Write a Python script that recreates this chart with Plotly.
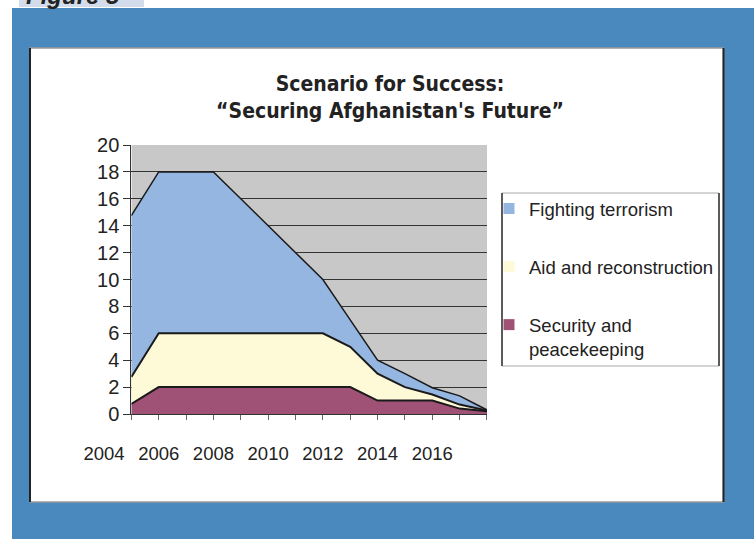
import plotly.graph_objects as go

# ---------------- data ----------------
years = list(range(2005, 2019))
security = [0.75, 2, 2, 2, 2, 2, 2, 2, 2, 1, 1, 1, 0.4, 0.2]
aid = [2, 4, 4, 4, 4, 4, 4, 4, 3, 2, 1, 0.45, 0.3, 0.05]
fighting = [12, 12, 12, 12, 10, 8, 6, 4, 2, 1, 1, 0.5, 0.65, 0.05]
label_years = [2004, 2006, 2008, 2010, 2012, 2014, 2016]
y_ticks = list(range(0, 21, 2))
series_names = ["Fighting terrorism", "Aid and reconstruction", "Security and<br>peacekeeping"]
series_colors = ["#95B6E1", "#FEF9D6", "#A05276"]
title_text = "Scenario for Success:<br>\u201cSecuring Afghanistan's Future\u201d"

# ---------------- geometry ----------------
W, H = 754, 539
ML, MR, MT, MB = 104, 267, 145, 125
PW, PH = W - ML - MR, H - MT - MB


def px_x(p):
    return (p - ML) / PW


def px_y(p):
    return (H - MB - p) / PH


BASE_FONT = "Liberation Sans, Arial, sans-serif"
TITLE_FONT = "Liberation Sans Narrow, Arial Narrow, Noto Sans Condensed, DejaVu Sans Condensed, sans-serif"
TEXT = "#222222"

fig = go.Figure()

# stacked areas (bottom to top)
stack = [("Security and peacekeeping", security, series_colors[2], 2),
         ("Aid and reconstruction", aid, series_colors[1], 2),
         ("Fighting terrorism", fighting, series_colors[0], 1.5)]
for name, vals, col, lw in stack:
    fig.add_trace(go.Scatter(
        x=years, y=vals, name=name, mode="lines",
        stackgroup="one", fillcolor=col,
        line=dict(color="#1a1a1a", width=lw),
        showlegend=False, hoverinfo="x+y+name"))

# legend entries (square swatches)
for i, (nm, col) in enumerate(zip(series_names, series_colors)):
    fig.add_trace(go.Scatter(
        x=[None], y=[None], mode="markers", name=nm,
        marker=dict(symbol="square", size=11, color=col, line=dict(width=0)),
        legendgroup=f"g{i}", showlegend=True))

# invisible trace carrying the year-label axis
fig.add_trace(go.Scatter(x=[None], y=[None], xaxis="x2", yaxis="y2",
                         showlegend=False, hoverinfo="skip"))

shapes = [
    # blue page background
    dict(type="rect", xref="paper", yref="paper", x0=px_x(12), x1=px_x(770),
         y0=px_y(8), y1=px_y(560), fillcolor="#4A89BE", line=dict(width=0), layer="below"),
    # "Figure" tab
    dict(type="rect", xref="paper", yref="paper", x0=px_x(19), x1=px_x(144),
         y0=px_y(-10), y1=px_y(7), fillcolor="#D3DCEB", line=dict(width=0), layer="below"),
    # white panel
    dict(type="rect", xref="paper", yref="paper", x0=px_x(30), x1=px_x(723.5),
         y0=px_y(48), y1=px_y(502), fillcolor="white", line=dict(color="#999999", width=1.5),
         layer="below"),
    dict(type="line", xref="paper", yref="paper", x0=px_x(30), x1=px_x(30),
         y0=px_y(48), y1=px_y(502), line=dict(color="#222222", width=2), layer="below"),
    dict(type="line", xref="paper", yref="paper", x0=px_x(723.5), x1=px_x(723.5),
         y0=px_y(48), y1=px_y(502), line=dict(color="#222222", width=2), layer="below"),
    # grey plot background
    dict(type="rect", xref="x", yref="y", x0=years[0], x1=years[-1],
         y0=y_ticks[0], y1=y_ticks[-1], fillcolor="#C8C8C8", line=dict(width=0), layer="below"),
    # legend frame
    dict(type="rect", xref="paper", yref="paper", x0=px_x(502), x1=px_x(719),
         y0=px_y(193), y1=px_y(366), fillcolor="rgba(0,0,0,0)",
         line=dict(color="#AAAAAA", width=1), layer="below"),
    dict(type="line", xref="paper", yref="paper", x0=px_x(502), x1=px_x(502),
         y0=px_y(193), y1=px_y(366), line=dict(color="#333333", width=1.5), layer="below"),
    dict(type="line", xref="paper", yref="paper", x0=px_x(719), x1=px_x(719),
         y0=px_y(193), y1=px_y(366), line=dict(color="#333333", width=1.5), layer="below"),
]

annotations = [
    dict(text="<i>Figure 5</i>", xref="paper", yref="paper", x=px_x(24), y=px_y(11),
         xanchor="left", yanchor="bottom", showarrow=False,
         font=dict(family=BASE_FONT, size=24, color=TEXT, weight="bold")),
]

x_main_start = (years[0] - label_years[0]) / (years[-1] - label_years[0])

fig.update_layout(
    width=W, height=H,
    margin=dict(l=ML, r=MR, t=MT, b=MB, pad=0),
    paper_bgcolor="white", plot_bgcolor="rgba(0,0,0,0)",
    font=dict(family=BASE_FONT, color=TEXT),
    title=dict(text=title_text, x=px_x(390), xref="paper", xanchor="center",
               y=1 - 91 / H, yref="container", yanchor="top",
               font=dict(family=TITLE_FONT, size=21, color=TEXT, weight="bold")),
    xaxis=dict(domain=[x_main_start, 1], range=[years[0], years[-1]],
               tickmode="array", tickvals=years, showticklabels=False,
               ticks="outside", ticklen=5, tickcolor="#666666", tickwidth=1,
               showgrid=False, zeroline=False, showline=True,
               linecolor="#333333", linewidth=1, anchor="y", fixedrange=True),
    yaxis=dict(range=[y_ticks[0], y_ticks[-1]], tickmode="array", tickvals=y_ticks,
               ticks="outside", ticklen=7, tickcolor="#333333", tickwidth=1,
               showgrid=True, gridcolor="#333333", gridwidth=1,
               zeroline=False, showline=True, linecolor="#333333", linewidth=1,
               tickfont=dict(size=20, color=TEXT), anchor="x", fixedrange=True),
    xaxis2=dict(domain=[0, 1], range=[label_years[0], years[-1]], anchor="y2",
                tickmode="array", tickvals=label_years, ticks="outside", ticklen=23,
                tickcolor="rgba(0,0,0,0)", showgrid=False, zeroline=False,
                showline=False, tickfont=dict(size=18.5, color=TEXT), fixedrange=True),
    yaxis2=dict(domain=[0, 1], range=[y_ticks[0], y_ticks[-1]], anchor="x2",
                visible=False, fixedrange=True),
    legend=dict(x=px_x(489), y=px_y(190), xanchor="left", yanchor="top",
                bgcolor="rgba(0,0,0,0)", borderwidth=0,
                font=dict(family=BASE_FONT, size=18.5, color=TEXT),
                traceorder="grouped", tracegroupgap=31, valign="top"),
    shapes=shapes,
    annotations=annotations,
    showlegend=True,
)

fig.write_html("out.html", config={"displayModeBar": False},
               post_script="document.body.style.margin='0px';")
